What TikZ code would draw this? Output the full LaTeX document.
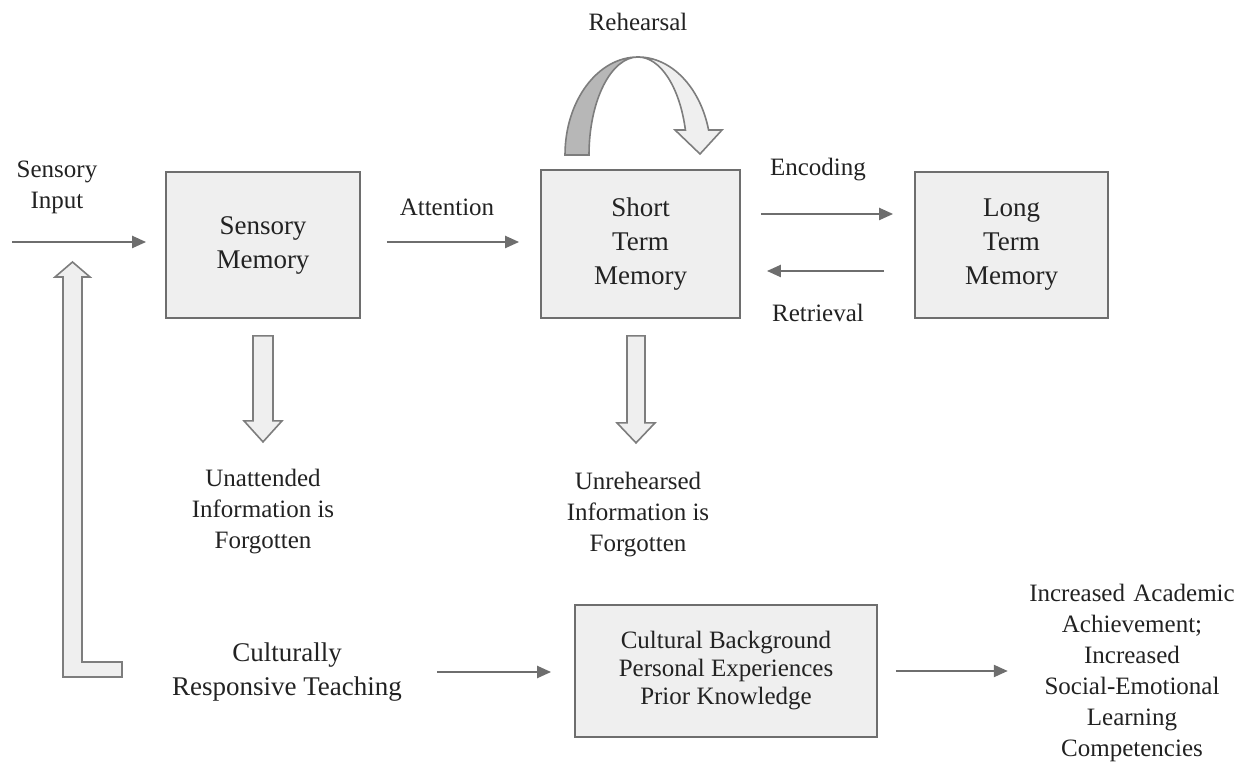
\documentclass[tikz,border=0pt]{standalone}
\usepackage{fontspec}
\setmainfont{Liberation Serif}
\usetikzlibrary{arrows.meta,calc}
\definecolor{boxfill}{HTML}{EFEFEF}
\definecolor{boxline}{HTML}{6E6E6E}
\definecolor{darkband}{HTML}{B7B7B7}
\definecolor{txt}{HTML}{222222}

\begin{document}
\begin{tikzpicture}[x=1pt,y=1pt,
	mem/.style={draw=boxline,line width=1.8pt,fill=boxfill,align=center,text=txt,
		font=\fontsize{27}{34}\selectfont,minimum width=194pt,minimum height=146pt,inner sep=0pt},
	lbl/.style={align=center,text=txt,font=\fontsize{25}{31}\selectfont,inner sep=0pt},
	conn/.style={draw=boxline,line width=2.2pt,-{Triangle[length=14pt,width=12pt]}},
	fat/.style={draw=boxline!90,line width=1.6pt,fill=boxfill,line join=miter}]
				\useasboundingbox (0,0) rectangle (1238,765);
				
				\node[mem] (sm) at (263,520) {Sensory\\Memory};
				\node[mem,minimum width=199pt,minimum height=148pt] (stm) at (640.5,521) {Short\\Term\\Memory};
				\node[mem,minimum width=193pt] (ltm) at (1011.5,520) {Long\\Term\\Memory};
				\node[mem,minimum width=302pt,minimum height=132pt,font=\fontsize{25}{28}\selectfont] (cb) at (726,94) {Cultural Background\\Personal Experiences\\Prior Knowledge};
				
				\node[lbl] (si) at (57,578) {Sensory\\Input};
				\node[lbl] (att) at (447,558) {Attention};
				\node[lbl] (enc) at (818,595) {Encoding};
				\node[lbl] (ret) at (818,452) {Retrieval};
				\node[lbl] (reh) at (638,743) {Rehearsal};
				\node[lbl] (ua) at (263,253) {Unattended\\Information is\\Forgotten};
				\node[lbl] (ur) at (638,250) {Unrehearsed\\Information is\\Forgotten};
				\node[lbl,font=\fontsize{27}{34}\selectfont,minimum width=300pt] (crt) at (287,93) {Culturally\\Responsive Teaching};
				\node[lbl,text width=210pt] (out) at (1132,92) {Increased Academic\\Achievement;\\Increased\\Social-Emotional\\Learning\\Competencies};
				
				\coordinate (in) at (12,523);
				\draw[conn,shorten >=19pt] (in) -- (in -| sm.west);
				\draw[conn,shorten <=26pt,shorten >=21pt] ([yshift=3pt]sm.east) -- ([yshift=3pt]sm.east -| stm.west);
				\draw[conn,shorten <=20pt,shorten >=21pt] ([yshift=30pt]stm.east) -- ([yshift=30pt]stm.east -| ltm.west);
				\draw[conn,shorten <=30pt,shorten >=26pt] ([yshift=-27pt]stm.east -| ltm.west) -- ([yshift=-27pt]stm.east);
				\draw[conn,shorten >=23pt] (crt.east) -- (crt.east -| cb.west);
				\draw[conn,shorten <=18pt,shorten >=19pt] (cb.east) -- (cb.east -| out.west);
				
				\draw[fat] ([shift={(-10,-17)}]sm.south) -- ++(0,-85) -- ++(-9,0) -- ++(19,-21) -- ++(19,21) -- ++(-9,0) -- ++(0,85) -- cycle;
				\draw[fat] ([shift={(-13.5,-17)}]stm.south) -- ++(0,-87) -- ++(-10,0) -- ++(19,-20) -- ++(19,20) -- ++(-10,0) -- ++(0,87) -- cycle;
				\draw[fat] (63,88) -- (122,88) -- (122,103) -- (82,103) -- (82,488) -- (90,488) -- (72.5,503) -- (55,488) -- (63,488) -- cycle;
				
				\coordinate (rc) at (638,610);
				\draw[fat,fill=darkband] ($(rc)+(-73,0)$) arc[start angle=180,end angle=90,x radius=73,y radius=98]
					arc[start angle=90,end angle=180,x radius=49,y radius=98] -- cycle;
				\draw[fat] ($(rc)+(0,98)$) arc[start angle=90,end angle=14.8,x radius=73,y radius=98]
					-- ($(rc)+(84,25)$) -- ($(rc)+(62,1)$) -- ($(rc)+(37,25)$) -- ($(rc)+(47.4,25)$)
					arc[start angle=14.8,end angle=90,x radius=49,y radius=98] -- cycle;
			\end{tikzpicture}
\end{document}
